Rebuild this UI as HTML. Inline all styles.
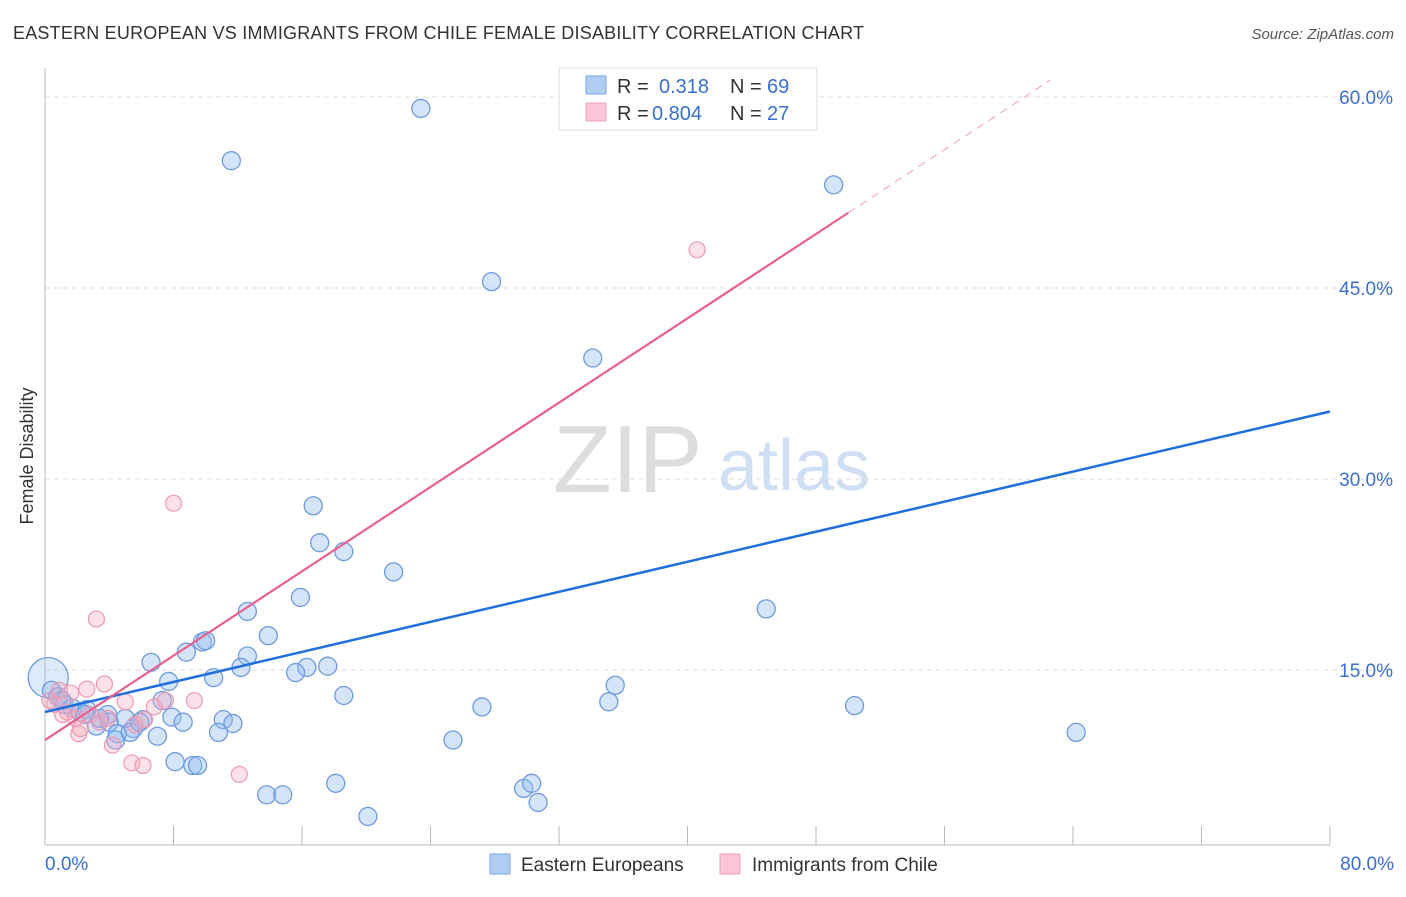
<!DOCTYPE html>
<html><head><meta charset="utf-8"><style>
body{margin:0;background:#fff;font-family:"Liberation Sans",sans-serif;}
svg text{font-family:"Liberation Sans",sans-serif;}
</style></head><body>
<svg id="chart" width="1406" height="892" xmlns="http://www.w3.org/2000/svg">
<text x="13" y="39" font-size="18" fill="#333" textLength="851">EASTERN EUROPEAN VS IMMIGRANTS FROM CHILE FEMALE DISABILITY CORRELATION CHART</text>
<text x="1394" y="39" font-size="15" fill="#555" font-style="italic" text-anchor="end">Source: ZipAtlas.com</text>
<text transform="translate(33,456) rotate(-90)" font-size="18" fill="#333" text-anchor="middle">Female Disability</text>
<text x="553" y="492" font-size="96" fill="#ddd" font-family="Liberation Serif">ZIP</text>
<text x="718" y="490" font-size="72" fill="#cfe0f5">atlas</text>
<g id="grid"></g><g id="axes"></g><g id="pts"></g><g id="lines"></g>
<g>
<rect x="559" y="68" width="258" height="62" fill="#fff" stroke="#ddd"/>
<rect x="586" y="76" width="20" height="18" fill="#b0cdf3" stroke="#7aa6e6"/>
<rect x="586" y="103" width="20" height="18" fill="#fcc6d6" stroke="#f0a0b8"/>
<text x="617" y="93" font-size="20" fill="#333">R = </text><text x="659" y="93" font-size="20" fill="#3a6fd0">0.318</text>
<text x="730" y="93" font-size="20" fill="#333">N = </text><text x="767" y="93" font-size="20" fill="#3a6fd0">69</text>
<text x="617" y="120" font-size="20" fill="#333">R = </text><text x="652" y="120" font-size="20" fill="#3a6fd0">0.804</text>
<text x="730" y="120" font-size="20" fill="#333">N = </text><text x="767" y="120" font-size="20" fill="#3a6fd0">27</text>
</g>
<g>
<rect x="490" y="854" width="20" height="20" fill="#b0cdf3" stroke="#7aa6e6"/>
<text x="521" y="871" font-size="19" fill="#333">Eastern Europeans</text>
<rect x="720" y="854" width="20" height="20" fill="#fcc6d6" stroke="#f0a0b8"/>
<text x="752" y="871" font-size="19" fill="#333">Immigrants from Chile</text>
</g>
</svg>
<script>
const yTicks=[15,30,45,60];
const yTickLabels=["15.0%","30.0%","45.0%","60.0%"];
const xTickLabels=["0.0%","80.0%"];
const blueX=[23.4,11.6,49.1,27.8,34.1,16.7,17.1,18.6,21.7,12.6,15.9,44.9,13.9,9.8,10.0,6.6,8.8,12.6,12.2,16.3,17.6,15.6,10.5,7.7,35.5,18.6,7.3,35.1,50.4,27.2,7.9,8.6,11.1,11.7,10.8,64.2,7.0,25.4,6.1,5.5,5.0,3.9,3.2,4.0,4.5,8.1,9.2,9.5,18.1,13.8,14.8,29.8,30.3,30.7,20.1,0.4,0.8,1.2,1.7,2.2,2.6,3.4,2.5,1.06,4.4,5.3,5.9];
const blueY=[59.1,55.0,53.1,45.5,39.5,27.9,25.0,24.3,22.7,19.6,20.7,19.8,17.7,17.2,17.3,15.6,16.4,16.1,15.2,15.2,15.3,14.8,14.4,14.1,13.8,13.0,12.6,12.5,12.2,12.1,11.3,10.9,11.1,10.8,10.1,10.1,9.8,9.5,11.1,10.4,11.2,11.5,10.6,10.9,10.0,7.8,7.5,7.5,6.1,5.2,5.2,5.7,6.1,4.6,3.5,13.4,12.9,12.3,12.0,11.7,11.9,11.2,11.5,12.6,9.5,10.1,10.9];
const pinkX=[40.6,8.0,3.2,3.7,2.6,1.6,5.0,9.3,6.8,12.1,5.4,6.1,4.2,2.1,2.2,1.1,0.6,0.3,1.4,1.9,2.8,3.4,0.9,5.6,3.9,7.5,6.2];
const pinkY=[48.0,28.1,19.0,13.9,13.5,13.2,12.5,12.6,12.1,6.8,7.7,7.5,9.1,10.0,10.4,11.5,12.3,12.6,11.7,11.2,11.5,10.9,13.4,10.7,11.2,12.6,11.1];
const blueTrend=[11.7,35.3]; // y at x=0, x=80
const pinkTrend=[9.5,0.828]; // intercept, slope
const NS="http://www.w3.org/2000/svg";
const X=v=>45+v/80*1285, Y=v=>861-v/15*191;
function mk(tag,attrs,parent){const e=document.createElementNS(NS,tag);for(const k in attrs)e.setAttribute(k,attrs[k]);document.getElementById(parent).appendChild(e);return e;}
yTicks.forEach((t,i)=>{
 const l=mk('line',{x1:45,x2:1394,y1:Y(t),y2:Y(t),stroke:'#ddd','stroke-dasharray':'5,4'},'grid');
 
 
 const tx=mk('text',{x:1393,y:Y(t)+7,'font-size':19,fill:'#3a6fd0','text-anchor':'end'},'grid');
 tx.textContent=yTickLabels[i];
 
 
});
mk('line',{x1:45,x2:45,y1:68,y2:845,stroke:'#bbb'},'axes');
mk('line',{x1:45,x2:1330,y1:845,y2:845,stroke:'#bbb'},'axes');
for(let i=0;i<=10;i++){const t=mk('line',{x1:X(i*8),x2:X(i*8),y1:826,y2:845,stroke:'#bbb'},'axes');
 
 }
[[0,'start',45],[80,'end',1394]].forEach((d,i)=>{const t=mk('text',{x:d[2],y:870,'font-size':19,fill:'#3a6fd0','text-anchor':d[1]},'axes');t.textContent=xTickLabels[i];
 
 });
let c=mk('circle',{cx:X(0.2),cy:Y(14.4),r:20,fill:'rgba(147,187,240,0.3)',stroke:'#6e9be0','stroke-width':1.3},'pts');


blueX.forEach((x,i)=>{const p=mk('circle',{cx:X(x),cy:Y(blueY[i]),r:9,fill:'rgba(147,187,240,0.4)',stroke:'#6e9be0','stroke-width':1.3},'pts');
 
 });
pinkX.forEach((x,i)=>{const p=mk('circle',{cx:X(x),cy:Y(pinkY[i]),r:8,fill:'rgba(245,170,190,0.35)',stroke:'#eb9ab2','stroke-width':1.2},'pts');
 
 });
let b=mk('line',{x1:X(0),y1:Y(blueTrend[0]),x2:X(80),y2:Y(blueTrend[1]),stroke:'#1f6fdc','stroke-width':2.5},'lines');


let p1=mk('line',{x1:X(0),y1:Y(pinkTrend[0]),x2:X(50),y2:Y(pinkTrend[0]+pinkTrend[1]*50),stroke:'#e8608e','stroke-width':2.2},'lines');


let p2=mk('line',{x1:X(50),y1:Y(pinkTrend[0]+pinkTrend[1]*50),x2:X(62.6),y2:Y(pinkTrend[0]+pinkTrend[1]*62.6),stroke:'#eea0b8','stroke-width':1,'stroke-dasharray':'8,6'},'lines');


</script>
</body></html>
